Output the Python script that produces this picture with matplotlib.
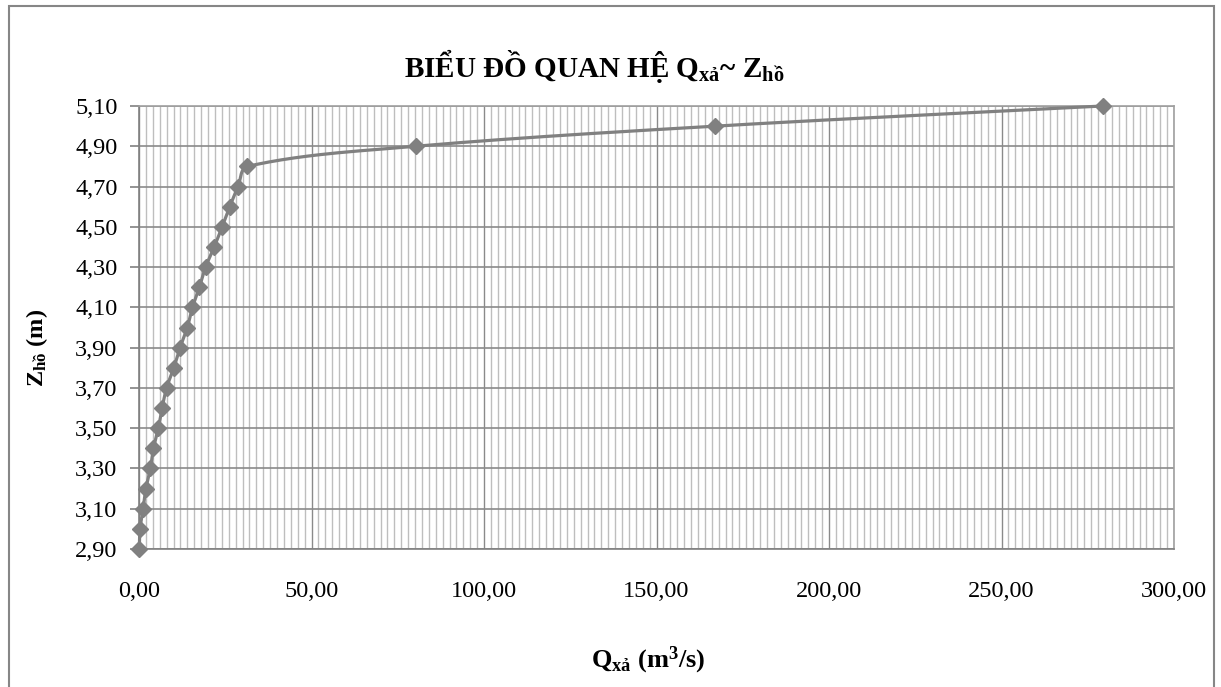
import numpy as np
import matplotlib
matplotlib.use("Agg")
import matplotlib.pyplot as plt
from matplotlib.ticker import MultipleLocator, FuncFormatter
from matplotlib.patches import Rectangle

plt.rcParams['font.family'] = ['Liberation Serif', 'DejaVu Serif']
plt.rcParams['mathtext.fontset'] = 'custom'
plt.rcParams['mathtext.rm'] = 'Liberation Serif'
plt.rcParams['mathtext.it'] = 'Liberation Serif:italic'
plt.rcParams['mathtext.bf'] = 'Liberation Serif:bold'

# muc nuoc ho (m) va luu luong xa (m3/s)
Z_ho = [2.9, 3.0, 3.1, 3.2, 3.3, 3.4, 3.5, 3.6, 3.7, 3.8, 3.9, 4.0,
        4.1, 4.2, 4.3, 4.4, 4.5, 4.6, 4.7, 4.8, 4.9, 5.0, 5.1]
Q_xa = [0.1, 0.3, 1.2, 2.0, 3.3, 4.2, 5.6, 6.7, 8.0, 10.1, 11.9, 14.0,
        15.5, 17.5, 19.3, 21.8, 24.1, 26.3, 28.7, 31.4, 80.2, 167.0, 279.3]

y_ticks = [2.9, 3.1, 3.3, 3.5, 3.7, 3.9, 4.1, 4.3, 4.5, 4.7, 4.9, 5.1]
x_ticks = [0, 50, 100, 150, 200, 250, 300]

GRAY = '#808080'


def smooth_line(ax, xs, ys, n=40):
    # duong cong tron (kieu Excel), tinh tren toa do man hinh
    pts = ax.transData.transform(np.column_stack([xs, ys]))
    m = len(pts)
    dirs = []
    for i in range(m):
        d = pts[min(i + 1, m - 1)] - pts[max(i - 1, 0)]
        dirs.append(d / np.hypot(*d))
    out = []
    for i in range(m - 1):
        p1, p2 = pts[i], pts[i + 1]
        L = np.hypot(*(p2 - p1)) / 3
        b1 = p1 + dirs[i] * L
        b2 = p2 - dirs[i + 1] * L
        t = np.linspace(0, 1, n)[:, None]
        seg = ((1 - t) ** 3 * p1 + 3 * (1 - t) ** 2 * t * b1
               + 3 * (1 - t) * t ** 2 * b2 + t ** 3 * p2)
        out.append(seg if i == 0 else seg[1:])
    out = np.vstack(out)
    return ax.transData.inverted().transform(out)


fig = plt.figure(figsize=(12.21, 6.87), dpi=100)
ax = fig.add_axes([139 / 1221, 1 - 549 / 687, (1174 - 139) / 1221, (549 - 106) / 687])

ax.set_xlim(0, 300)
ax.set_ylim(2.9, 5.1)
ax.set_xticks(x_ticks)
ax.set_yticks(y_ticks)
ax.xaxis.set_minor_locator(MultipleLocator(2))
fmt = FuncFormatter(lambda v, p: f"{v:.2f}".replace('.', ','))
ax.xaxis.set_major_formatter(fmt)
ax.yaxis.set_major_formatter(fmt)

ax.grid(which='minor', axis='x', color='#bebebe', lw=1.0)
ax.grid(which='major', axis='x', color='#8a8a8a', lw=1.0)
ax.grid(which='major', axis='y', color='#8a8a8a', lw=1.2)
ax.set_axisbelow(True)

for s in ax.spines.values():
    s.set_color('#a0a0a0')
    s.set_linewidth(1.2)
ax.spines['left'].set_color(GRAY)
ax.spines['bottom'].set_color(GRAY)

ax.tick_params(axis='y', which='major', length=6.5, width=1.2, color=GRAY,
               labelsize=17.5, pad=9)
ax.tick_params(axis='x', which='both', length=0, labelsize=17.5, pad=23)

curve = smooth_line(ax, Q_xa, Z_ho)
ax.plot(curve[:, 0], curve[:, 1], color=GRAY, lw=2.3, clip_on=False, zorder=3)
ax.plot(Q_xa, Z_ho, ls='none', marker='D', ms=7.8, color=GRAY, clip_on=False, zorder=4)

fig.text(594 / 1221, 1 - 77 / 687,
         r"BIỂU ĐỒ QUAN HỆ $\mathbf{Q_{xả}}$~ $\mathbf{Z_{hồ}}$",
         ha='center', va='baseline', fontsize=21, fontweight='bold')
fig.text(648 / 1221, 1 - 667 / 687, r"$\mathbf{Q_{xả}}$ (m$^\mathbf{3}$/s)",
         ha='center', va='baseline', fontsize=19, fontweight='bold')
fig.text(37 / 1221, 1 - 348 / 687, r"$\mathbf{Z_{hồ}}$ (m)", rotation=90,
         ha='center', va='center', fontsize=17.5, fontweight='bold')

fig.add_artist(Rectangle((8.5 / 1221, -0.05), (1214 - 8.5) / 1221, 1.05 - 6 / 687,
                         transform=fig.transFigure, fill=False,
                         edgecolor='#868686', lw=1.5))

fig.savefig('out.png', dpi=100)
